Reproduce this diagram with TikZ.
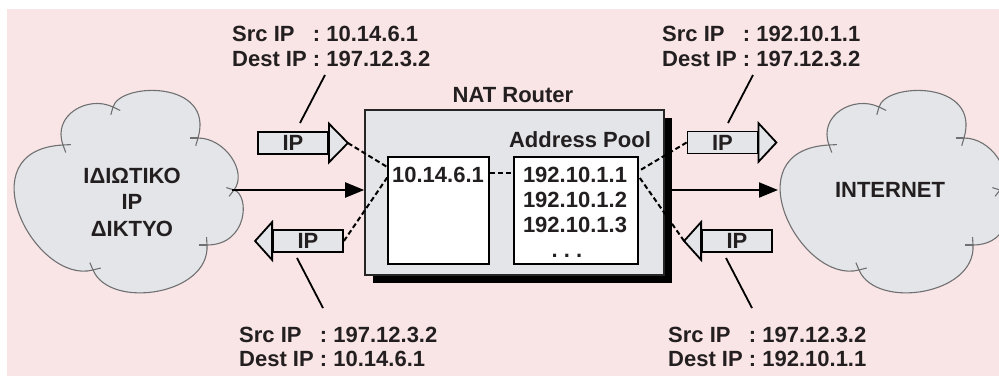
\documentclass[tikz,border=0pt]{standalone}
\usepackage{fontspec}
\setmainfont{Liberation Sans}
\usetikzlibrary{arrows.meta,calc}
\definecolor{bgpink}{HTML}{F9E5E5}
\definecolor{boxgray}{HTML}{E4E5E8}
\definecolor{ink}{HTML}{231F20}
\definecolor{cloudline}{HTML}{707072}
\newcommand\iplbl[2]{\makebox[3.67em][l]{#1}:\ #2}
\begin{document}
\begin{tikzpicture}[x=1pt,y=-1pt,
  every node/.style={font=\fontsize{22}{26.5}\selectfont\bfseries, text=ink, inner sep=0pt},
  lbl/.style={anchor=base west},
  ipbody/.style={draw=black, fill=boxgray, line width=1.8pt, minimum width=70pt, minimum height=22pt},
  iphead/.style={draw=black, fill=boxgray, line width=1.8pt, line join=miter},
  inbox/.style={draw=black, fill=white, line width=1.6pt, minimum height=107pt},
  dline/.style={dash pattern=on 5pt off 3pt, line width=2pt, black},
  pline/.style={line width=1.8pt, black},
  flow/.style={line width=2pt, -{Triangle[length=19pt,width=15pt]}},
  cloudshape/.style={fill=boxgray, draw=cloudline, line width=1.1pt},
  tick/.style={draw=cloudline, line width=1.1pt}]
\useasboundingbox (0,0) rectangle (999,376);
\fill[bgpink] (7,9) rectangle (999,376);

% clouds
\foreach \sx in {0,766} {
 \begin{scope}[xshift=\sx pt]
  \filldraw[cloudshape] (63,145) .. controls (52,115) and (88,95) .. (113,107)
     .. controls (120,82) and (215,80) .. (198,138)
     .. controls (225,138) and (248,172) .. (234,190)
     .. controls (250,195) and (248,245) .. (207,245)
     .. controls (210,295) and (110,310) .. (93,270)
     .. controls (35,285) and (-35,150) .. (63,145) -- cycle;
  \draw[tick] (63,145) -- ($(63,145)!-8pt!(-35,150)$);
  \draw[tick] (63,145) -- ($(63,145)!-8pt!(52,115)$);
  \draw[tick] (113,107) -- ($(113,107)!-8pt!(88,95)$);
  \draw[tick] (113,107) -- ($(113,107)!-8pt!(120,82)$);
  \draw[tick] (198,138) -- ($(198,138)!-8pt!(215,80)$);
  \draw[tick] (198,138) -- ($(198,138)!-8pt!(225,138)$);
  \draw[tick] (234,190) -- ($(234,190)!-8pt!(248,172)$);
  \draw[tick] (234,190) -- ($(234,190)!-8pt!(250,195)$);
  \draw[tick] (207,245) -- ($(207,245)!-8pt!(248,245)$);
  \draw[tick] (207,245) -- ($(207,245)!-8pt!(210,295)$);
  \draw[tick] (93,270) -- ($(93,270)!-8pt!(110,310)$);
  \draw[tick] (93,270) -- ($(93,270)!-8pt!(35,285)$);
 \end{scope}}
\node[align=center] (priv) at (132,202) {ΙΔΙΩΤΙΚΟ\\IP\\ΔΙΚΤΥΟ};
\node (inet) at (890,190) {INTERNET};

% router
\fill[black] (373,118) rectangle (672,283);
\node[draw=black!85, fill=boxgray, line width=1.6pt, minimum width=299pt, minimum height=165pt] (router) at (514.5,192.5) {};
\node (natlbl) at (513,95) {NAT Router};
\node (pool) at (580,140) {Address Pool};
\node[inbox, minimum width=101pt] (lbox) at (438.5,210.5) {};
\node[inbox, minimum width=124pt] (rbox) at (576,210.5) {};
\node (lip) at (438,175) {10.14.6.1};
\node (p1) at (575,175) {192.10.1.1};
\node (p2) at (575,200) {192.10.1.2};
\node (p3) at (575,224.5) {192.10.1.3};
\node[anchor=base] (pd) at (567,257) {.\ .\ .};
\draw[dline] (lbox.east |- 0,173) -- (rbox.west |- 0,173);

% flows
\coordinate (privE) at (232,190);
\coordinate (shE) at (672,190);
\coordinate (inetW) at (778,190);
\draw[flow] (privE) -- (privE -| router.west);
\draw[flow] (shE) -- (inetW);

% IP packets
\node[ipbody] (a1) at (293,143) {IP};
\filldraw[iphead] ([yshift=7.5pt]a1.north east) -- ([xshift=19pt]a1.east) -- ([yshift=-7.5pt]a1.south east) -- cycle;
\coordinate (a1tip) at ([xshift=19pt]a1.east);
\node[ipbody] (a2) at (308,241) {IP};
\filldraw[iphead] ([yshift=7pt]a2.north west) -- ([xshift=-17pt]a2.west) -- ([yshift=-7pt]a2.south west) -- cycle;
\node[ipbody] (a3) at (722.5,142.5) {IP};
\filldraw[iphead] ([yshift=7.5pt]a3.north east) -- ([xshift=18pt]a3.east) -- ([yshift=-7.5pt]a3.south east) -- cycle;
\node[ipbody] (a4) at (737,241) {IP};
\filldraw[iphead] ([yshift=7pt]a4.north west) -- ([xshift=-17pt]a4.west) -- ([yshift=-7pt]a4.south west) -- cycle;
\coordinate (a4tip) at ([xshift=-17pt]a4.west);

\draw[dline] (a1tip) -- ([yshift=43.5pt]lbox.west);
\draw[dline] (a2.east) -- ([yshift=33pt]lbox.west);
\draw[dline] (a3.west) -- ([yshift=39.5pt]rbox.east);
\draw[dline] (a4tip) -- ([yshift=34pt]rbox.east);

% labels
\node[lbl] (t1a) at (232,41) {\iplbl{Src IP}{10.14.6.1}};
\node[lbl] (t1b) at (232,66) {\iplbl{Dest IP}{197.12.3.2}};
\node[lbl] (t2a) at (662,41) {\iplbl{Src IP}{192.10.1.1}};
\node[lbl] (t2b) at (662,66) {\iplbl{Dest IP}{197.12.3.2}};
\node[lbl] (t3a) at (239,342) {\iplbl{Src IP}{197.12.3.2}};
\node[lbl] (t3b) at (239,366) {\iplbl{Dest IP}{10.14.6.1}};
\node[lbl] (t4a) at (668,342) {\iplbl{Src IP}{197.12.3.2}};
\node[lbl] (t4b) at (668,366) {\iplbl{Dest IP}{192.10.1.1}};

\coordinate (c1s) at (325,75);  \coordinate (c1e) at (300,123);
\coordinate (c2s) at (753,75);  \coordinate (c2e) at (728,123);
\coordinate (c3s) at (297,258); \coordinate (c3e) at (323,308);
\coordinate (c4s) at (726,258); \coordinate (c4e) at (752,308);
\draw[pline] (c1s) -- (c1e);
\draw[pline] (c2s) -- (c2e);
\draw[pline] (c3s) -- (c3e);
\draw[pline] (c4s) -- (c4e);
\end{tikzpicture}
\end{document}
